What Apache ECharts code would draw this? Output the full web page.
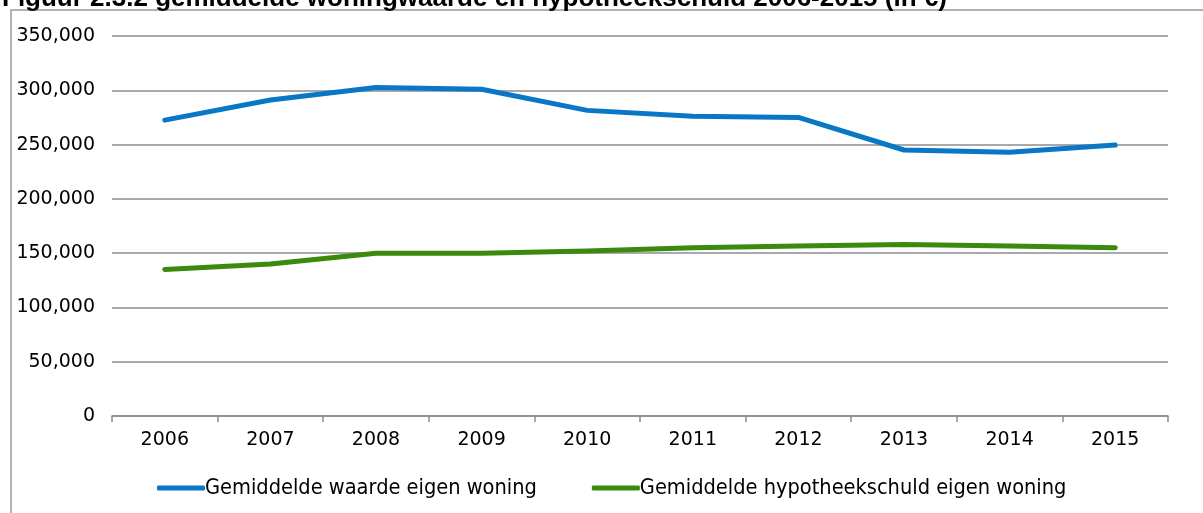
<!DOCTYPE html>
<html><head><meta charset="utf-8">
<script src="https://cdn.jsdelivr.net/npm/echarts@6/dist/echarts.min.js"></script>
<style>html,body{margin:0;padding:0;background:#fff}#c{width:1203px;height:513px}</style>
</head><body><div id="c"></div>
<script>
const years = ['2006','2007','2008','2009','2010','2011','2012','2013','2014','2015'];
const waarde = [272500, 291000, 302500, 301000, 281500, 276000, 275000, 245000, 243000, 249500];
const hypotheek = [135000, 140000, 150000, 150000, 152000, 155000, 156500, 158000, 156500, 155000];
const seriesNames = ['Gemiddelde waarde eigen woning', 'Gemiddelde hypotheekschuld eigen woning'];
const titleText = 'Figuur 2.3.2 gemiddelde woningwaarde en hypotheekschuld 2006-2015 (in €)';

const chart = echarts.init(document.getElementById('c'));
chart.setOption({
  animation: false,
  title: { text: titleText, left: -3, top: -19, textStyle: { fontFamily: 'Liberation Sans', fontWeight: 'bold', fontSize: 26, color: '#000' } },
  graphic: [{ type: 'rect', z: -1, shape: { x: 11, y: 10, width: 1400, height: 700 }, style: { fill: '#fff', stroke: '#999', lineWidth: 1.5 } }],
  grid: { left: 112, right: 35, top: 36, bottom: 97 },
  legend: {
    bottom: 9, left: 152, itemWidth: 48, itemHeight: 5, itemGap: 55,
    icon: 'roundRect',
    textStyle: { fontFamily: 'DejaVu Sans Condensed', fontSize: 21.6, color: '#000', padding: [0,0,0,-5] },
    data: seriesNames
  },
  xAxis: {
    type: 'category', data: years, boundaryGap: true,
    axisLine: { lineStyle: { color: '#8c8c8c', width: 1.5 } },
    axisTick: { show: true, length: 6, lineStyle: { color: '#8c8c8c', width: 1.5 } },
    axisLabel: { margin: 15, fontFamily: 'DejaVu Sans', fontSize: 19, color: '#000' }
  },
  yAxis: {
    type: 'value', min: 0, max: 350000, interval: 50000,
    axisLine: { show: false }, axisTick: { show: false },
    splitLine: { lineStyle: { color: '#8c8c8c', width: 1.5 } },
    axisLabel: { margin: 17, fontFamily: 'DejaVu Sans', fontSize: 19, color: '#000',
      formatter: v => v.toLocaleString('en-US') }
  },
  series: [
    { name: seriesNames[0], type: 'line', data: waarde, symbol: 'none', color: '#0877C6',
      lineStyle: { width: 5, color: '#0877C6', cap: 'round', join: 'round' } },
    { name: seriesNames[1], type: 'line', data: hypotheek, symbol: 'none', color: '#3B8A0C',
      lineStyle: { width: 5, color: '#3B8A0C', cap: 'round', join: 'round' } }
  ]
});
</script></body></html>
